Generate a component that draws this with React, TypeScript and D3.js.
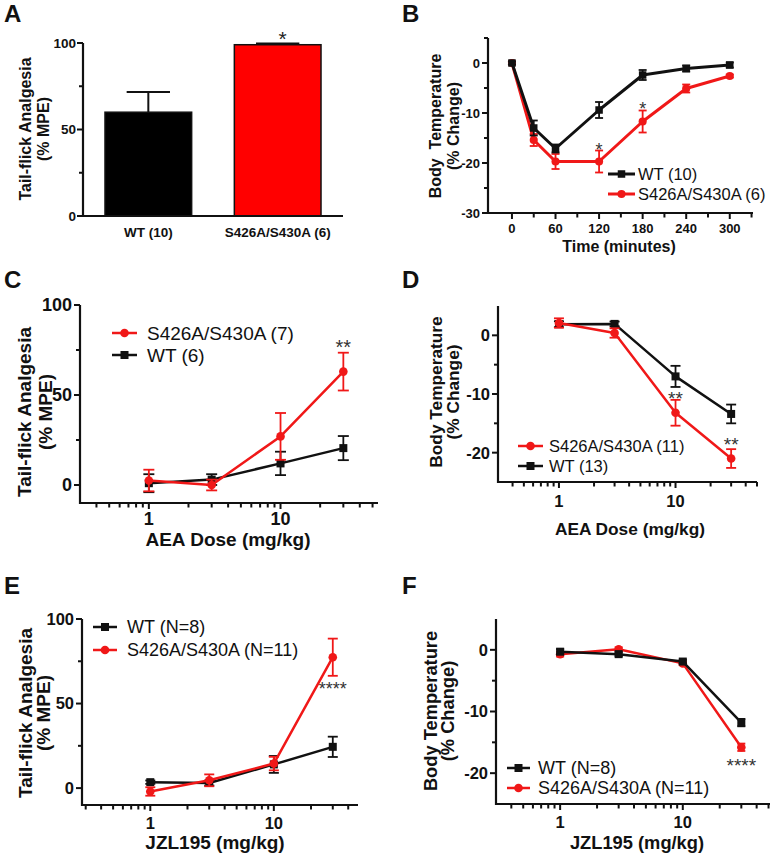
import React from 'react';
import * as d3 from 'd3';

const RED = '#f01818';
const BAR_RED = '#ff0000';
const INK = '#111111';
const FONT = '"Liberation Sans", Arial, Helvetica, sans-serif';

// ---- panel A: tail-flick bar chart
const aGroups = ['WT (10)', 'S426A/S430A (6)'];
const aMeans = [60, 99];
const aSem = [11.7, 0.7];
const aFills = ['#000000', BAR_RED];

// ---- panel B: body temperature time course
const bTime = [0, 30, 60, 120, 180, 240, 300];
const bWt = [0, -13, -17.1, -9.4, -2.4, -1.1, -0.4];
const bWtSem = [0.3, 1.5, 0.8, 1.6, 1.0, 0.6, 0.5];
const bMut = [0, -15.4, -19.7, -19.7, -11.7, -5.1, -2.6];
const bMutSem = [0.3, 1.2, 1.5, 2.2, 2.2, 0.8, 0.3];

// ---- panels C-F: dose response
const doses = [1, 3, 10, 30];
const cMut = [2.5, 0, 27, 63];
const cMutSem = [6, 3, 13, 10.5];
const cWt = [1, 3, 12, 20.5];
const cWtSem = [5, 3, 6.5, 6.7];

const dMut = [2.1, 0.4, -13.2, -21];
const dMutSem = [0.8, 0.8, 2.2, 1.6];
const dWt = [1.9, 1.95, -7, -13.4];
const dWtSem = [0.5, 0.4, 1.8, 1.6];

const eWt = [3.5, 3, 14, 24.4];
const eWtSem = [1, 1.5, 5, 6];
const eMut = [-2, 4.6, 14.5, 77.4];
const eMutSem = [2.5, 3.5, 4, 11];

const fWt = [-0.3, -0.7, -1.9, -11.8];
const fWtSem = [0.4, 0.3, 0.3, 0.6];
const fMut = [-0.7, 0.1, -2.2, -15.8];
const fMutSem = [0.4, 0.3, 0.3, 0.6];

type Series = {
  name: string;
  color: string;
  marker: 'square' | 'circle';
  x: number[];
  y: number[];
  sem: number[];
};

type Star = { x: number; y: number; text: string; size: number };

type LineProps = {
  xLog: boolean;
  xDomain: [number, number];
  xRange: [number, number];
  xMajor?: number[];
  xMinor?: number[];
  yDomain: [number, number];
  yRange: [number, number];
  yMajor: number[];
  yMinor: number[];
  tickSize: number;
  titleSize: number;
  xTickY: number;
  xTitleY: number;
  xTitleX: number;
  xTitle: string;
  yTitle: [string, string];
  yTitleX: [number, number];
  yTitleCY: number;
  series: Series[];
  drawOrder: number[];
  lineW: number;
  capW: number;
  mSize: number;
  legend: { x1: number; x2: number; textX: number; ys: number[]; size: number; order: number[] };
  stars: Star[];
};

function Marker({ kind, cx, cy, size, color }: { kind: string; cx: number; cy: number; size: number; color: string }) {
  if (kind === 'square') {
    return <rect x={cx - size / 2} y={cy - size / 2} width={size} height={size} fill={color} />;
  }
  return <circle cx={cx} cy={cy} r={size / 2 + 0.3} fill={color} />;
}

function LinePanel(p: LineProps) {
  const x = p.xLog
    ? d3.scaleLog().domain(p.xDomain).range(p.xRange)
    : d3.scaleLinear().domain(p.xDomain).range(p.xRange);
  const y = d3.scaleLinear().domain(p.yDomain).range(p.yRange);
  const x0 = p.xRange[0];
  const yBase = p.yRange[0];

  let majors: number[] = [];
  let minors: number[] = [];
  if (p.xLog) {
    const all = (x as d3.ScaleLogarithmic<number, number>).ticks();
    majors = all.filter((v) => Math.abs(Math.log10(v) - Math.round(Math.log10(v))) < 1e-9);
    minors = all.filter((v) => !majors.includes(v) && x(v) > x0 + 3);
  } else {
    majors = p.xMajor || [];
    minors = p.xMinor || [];
  }

  const line = d3
    .line<[number, number]>()
    .x((d) => x(d[0]))
    .y((d) => y(d[1]));

  return (
    <g>
      {/* axes */}
      <line x1={x0} x2={x0} y1={p.yRange[1]} y2={yBase + 1} stroke={INK} strokeWidth={2.2} />
      <line x1={x0 - 1} x2={p.xRange[1]} y1={yBase} y2={yBase} stroke={INK} strokeWidth={2.2} />
      {p.yMajor.map((v) => (
        <g key={'ym' + v}>
          <line x1={x0 - 6} x2={x0} y1={y(v)} y2={y(v)} stroke={INK} strokeWidth={2} />
          <text
            x={x0 - 8}
            y={y(v)}
            dy="0.36em"
            textAnchor="end"
            fontSize={p.tickSize}
            fontWeight="bold"
            fill={INK}
          >
            {v}
          </text>
        </g>
      ))}
      {p.yMinor.map((v) => (
        <line key={'yn' + v} x1={x0 - 4} x2={x0} y1={y(v)} y2={y(v)} stroke={INK} strokeWidth={2} />
      ))}
      {majors.map((v) => (
        <g key={'xm' + v}>
          <line x1={x(v)} x2={x(v)} y1={yBase} y2={yBase + 6} stroke={INK} strokeWidth={2} />
          <text x={x(v)} y={p.xTickY} textAnchor="middle" fontSize={p.tickSize} fontWeight="bold" fill={INK}>
            {v}
          </text>
        </g>
      ))}
      {minors.map((v) => (
        <line key={'xn' + v} x1={x(v)} x2={x(v)} y1={yBase} y2={yBase + 4.5} stroke={INK} strokeWidth={2} />
      ))}
      <text x={p.xTitleX} y={p.xTitleY} textAnchor="middle" fontSize={p.titleSize} fontWeight="bold" fill={INK}>
        {p.xTitle}
      </text>
      {p.yTitle.map((t, i) => (
        <text
          key={t}
          transform={`translate(${p.yTitleX[i]},${p.yTitleCY}) rotate(-90)`}
          dy="0.36em"
          textAnchor="middle"
          fontSize={p.titleSize}
          fontWeight="bold"
          fill={INK}
          style={{ whiteSpace: 'pre' }}
        >
          {t}
        </text>
      ))}

      {/* series */}
      {p.drawOrder.map((si) => {
        const s = p.series[si];
        const pts = s.x.map((xv, i) => [xv, s.y[i]] as [number, number]);
        return (
          <g key={s.name}>
            <path d={line(pts) || ''} fill="none" stroke={s.color} strokeWidth={p.lineW} strokeLinejoin="round" />
            {pts.map((d, i) => {
              const cx = x(d[0]);
              const top = y(d[1] + s.sem[i]);
              const bot = y(d[1] - s.sem[i]);
              return (
                <g key={i}>
                  <line x1={cx} x2={cx} y1={top} y2={bot} stroke={s.color} strokeWidth={1.8} />
                  <line x1={cx - p.capW} x2={cx + p.capW} y1={top} y2={top} stroke={s.color} strokeWidth={1.8} />
                  <line x1={cx - p.capW} x2={cx + p.capW} y1={bot} y2={bot} stroke={s.color} strokeWidth={1.8} />
                  <Marker kind={s.marker} cx={cx} cy={y(d[1])} size={p.mSize} color={s.color} />
                </g>
              );
            })}
          </g>
        );
      })}

      {/* significance */}
      {p.stars.map((st, i) => (
        <text
          key={'st' + i}
          x={x(st.x)}
          y={y(st.y) + st.size * 0.55}
          textAnchor="middle"
          fontSize={st.size}
          fill="#333"
        >
          {st.text}
        </text>
      ))}

      {/* legend */}
      {p.legend.order.map((si, i) => {
        const s = p.series[si];
        const ly = p.legend.ys[i];
        return (
          <g key={'lg' + si}>
            <line x1={p.legend.x1} x2={p.legend.x2} y1={ly} y2={ly} stroke={s.color} strokeWidth={p.lineW} />
            <Marker kind={s.marker} cx={(p.legend.x1 + p.legend.x2) / 2} cy={ly} size={p.mSize} color={s.color} />
            <text x={p.legend.textX} y={ly} dy="0.36em" fontSize={p.legend.size} fill={INK}>
              {s.name}
            </text>
          </g>
        );
      })}
    </g>
  );
}

function BarPanel() {
  const x = d3.scaleBand().domain(aGroups).range([83, 343]).paddingInner(0.33).paddingOuter(0.17);
  const y = d3.scaleLinear().domain([0, 100]).range([216, 43]);
  const bw = x.bandwidth();
  return (
    <g>
      {aGroups.map((g, i) => {
        const bx = x(g) as number;
        const cx = bx + bw / 2;
        const top = y(aMeans[i] + aSem[i]);
        return (
          <g key={g}>
            <line x1={cx} x2={cx} y1={y(aMeans[i])} y2={top} stroke={INK} strokeWidth={2} />
            <line x1={cx - bw / 4} x2={cx + bw / 4} y1={top} y2={top} stroke={INK} strokeWidth={2} />
            <rect
              x={bx}
              y={y(aMeans[i])}
              width={bw}
              height={y(0) - y(aMeans[i])}
              fill={aFills[i]}
              stroke={INK}
              strokeWidth={1.5}
            />
            <text x={cx} y={237} textAnchor="middle" fontSize={13.5} fontWeight="bold" fill={INK}>
              {g}
            </text>
          </g>
        );
      })}
      <text x={(x(aGroups[1]) as number) + bw / 2 + 5} y={y(105) + 12} textAnchor="middle" fontSize={21} fill="#222">
        *
      </text>
      <line x1={83} x2={83} y1={43} y2={217} stroke={INK} strokeWidth={2.2} />
      <line x1={82} x2={343} y1={216} y2={216} stroke={INK} strokeWidth={2.2} />
      {[0, 50, 100].map((v) => (
        <g key={v}>
          <line x1={77} x2={83} y1={y(v)} y2={y(v)} stroke={INK} strokeWidth={2} />
          <text x={76} y={y(v)} dy="0.36em" textAnchor="end" fontSize={13.5} fontWeight="bold" fill={INK}>
            {v}
          </text>
        </g>
      ))}
      {[25, 75].map((v) => (
        <line key={v} x1={79} x2={83} y1={y(v)} y2={y(v)} stroke={INK} strokeWidth={2} />
      ))}
      {['Tail-flick Analgesia', '(% MPE)'].map((t, i) => (
        <text
          key={t}
          transform={`translate(${[25, 43][i]},129) rotate(-90)`}
          dy="0.36em"
          textAnchor="middle"
          fontSize={16}
          fontWeight="bold"
          fill={INK}
        >
          {t}
        </text>
      ))}
    </g>
  );
}

const letters = [
  { t: 'A', x: 4, y: 22 },
  { t: 'B', x: 402, y: 22 },
  { t: 'C', x: 4, y: 288 },
  { t: 'D', x: 402, y: 288 },
  { t: 'E', x: 4, y: 594 },
  { t: 'F', x: 402, y: 594 },
];

export default function App() {
  const wtName = 'WT';
  return (
    <svg
      width={776}
      height={853}
      viewBox="0 0 776 853"
      style={{ position: 'absolute', left: 0, top: 0, background: '#fff' }}
      fontFamily={FONT}
    >
      <rect width={776} height={853} fill="#fff" />
      {letters.map((l) => (
        <text key={l.t} x={l.x} y={l.y} fontSize={24} fontWeight="bold" fill={INK}>
          {l.t}
        </text>
      ))}
      <BarPanel />

      <LinePanel
        xLog={false}
        xDomain={[-33, 332]}
        xRange={[488, 753]}
        xMajor={d3.range(0, 301, 60)}
        xMinor={d3.range(30, 331, 60)}
        yDomain={[-30, 5]}
        yRange={[213, 38]}
        yMajor={[-30, -20, -10, 0]}
        yMinor={[-25, -15, -5, 5]}
        tickSize={13}
        titleSize={16}
        xTickY={233}
        xTitleY={252}
        xTitleX={619}
        xTitle="Time (minutes)"
        yTitle={['Body  Temperature', '(% Change)']}
        yTitleX={[435, 453]}
        yTitleCY={126}
        series={[
          { name: `${wtName} (10)`, color: INK, marker: 'square', x: bTime, y: bWt, sem: bWtSem },
          { name: 'S426A/S430A (6)', color: RED, marker: 'circle', x: bTime, y: bMut, sem: bMutSem },
        ]}
        drawOrder={[1, 0]}
        lineW={3}
        capW={4}
        mSize={7.5}
        legend={{ x1: 608, x2: 635, textX: 638, ys: [174, 194], size: 16.5, order: [0, 1] }}
        stars={[
          { x: 120, y: -16.6, text: '*', size: 18 },
          { x: 180, y: -8.4, text: '*', size: 18 },
        ]}
      />

      <LinePanel
        xLog={true}
        xDomain={[0.3, 55]}
        xRange={[80, 378]}
        yDomain={[-10, 100]}
        yRange={[503, 305]}
        yMajor={[0, 50, 100]}
        yMinor={[25, 75]}
        tickSize={18}
        titleSize={19}
        xTickY={525}
        xTitleY={546}
        xTitleX={228}
        xTitle="AEA Dose (mg/kg)"
        yTitle={['Tail-flick Analgesia', '(% MPE)']}
        yTitleX={[24, 45]}
        yTitleCY={412}
        series={[
          { name: 'S426A/S430A (7)', color: RED, marker: 'circle', x: doses, y: cMut, sem: cMutSem },
          { name: `${wtName} (6)`, color: INK, marker: 'square', x: doses, y: cWt, sem: cWtSem },
        ]}
        drawOrder={[1, 0]}
        lineW={2.5}
        capW={5.5}
        mSize={8}
        legend={{ x1: 112, x2: 137, textX: 147, ys: [333, 355], size: 19, order: [0, 1] }}
        stars={[{ x: 30, y: 78.9, text: '**', size: 20 }]}
      />

      <LinePanel
        xLog={true}
        xDomain={[0.3, 50]}
        xRange={[498, 757]}
        yDomain={[-25, 5]}
        yRange={[482, 306]}
        yMajor={[-20, -10, 0]}
        yMinor={[-15, -5]}
        tickSize={16.5}
        titleSize={17.3}
        xTickY={507}
        xTitleY={535}
        xTitleX={630}
        xTitle="AEA Dose (mg/kg)"
        yTitle={['Body Temperature', '(% Change)']}
        yTitleX={[436, 453]}
        yTitleCY={392}
        series={[
          { name: 'S426A/S430A (11)', color: RED, marker: 'circle', x: doses, y: dMut, sem: dMutSem },
          { name: `${wtName} (13)`, color: INK, marker: 'square', x: doses, y: dWt, sem: dWtSem },
        ]}
        drawOrder={[1, 0]}
        lineW={2.5}
        capW={5}
        mSize={8}
        legend={{ x1: 518, x2: 543, textX: 549, ys: [446, 466], size: 16.5, order: [0, 1] }}
        stars={[
          { x: 10, y: -10.1, text: '**', size: 19 },
          { x: 30, y: -18, text: '**', size: 19 },
        ]}
      />

      <LinePanel
        xLog={true}
        xDomain={[0.28, 48]}
        xRange={[82, 358]}
        yDomain={[-10, 100]}
        yRange={[805, 619]}
        yMajor={[0, 50, 100]}
        yMinor={[25, 75]}
        tickSize={16.5}
        titleSize={19}
        xTickY={829}
        xTitleY={849}
        xTitleX={215}
        xTitle="JZL195 (mg/kg)"
        yTitle={['Tail-flick Analgesia', '(% MPE)']}
        yTitleX={[25, 43]}
        yTitleCY={713}
        series={[
          { name: `${wtName} (N=8)`, color: INK, marker: 'square', x: doses, y: eWt, sem: eWtSem },
          { name: 'S426A/S430A (N=11)', color: RED, marker: 'circle', x: doses, y: eMut, sem: eMutSem },
        ]}
        drawOrder={[0, 1]}
        lineW={2.5}
        capW={5}
        mSize={8}
        legend={{ x1: 93, x2: 117, textX: 127, ys: [627, 650], size: 18, order: [0, 1] }}
        stars={[{ x: 30, y: 61, text: '****', size: 18 }]}
      />

      <LinePanel
        xLog={true}
        xDomain={[0.3, 51.4]}
        xRange={[496, 770]}
        yDomain={[-25, 5]}
        yRange={[804, 619]}
        yMajor={[-20, -10, 0]}
        yMinor={[-15, -5]}
        tickSize={16.5}
        titleSize={18.3}
        xTickY={828}
        xTitleY={849}
        xTitleX={637}
        xTitle="JZL195 (mg/kg)"
        yTitle={['Body Temperature', '(% Change)']}
        yTitleX={[430, 447]}
        yTitleCY={711}
        series={[
          { name: `${wtName} (N=8)`, color: INK, marker: 'square', x: doses, y: fWt, sem: fWtSem },
          { name: 'S426A/S430A (N=11)', color: RED, marker: 'circle', x: doses, y: fMut, sem: fMutSem },
        ]}
        drawOrder={[1, 0]}
        lineW={2.5}
        capW={4}
        mSize={8}
        legend={{ x1: 507, x2: 530, textX: 538, ys: [768, 788], size: 18, order: [0, 1] }}
        stars={[{ x: 30, y: -18.1, text: '****', size: 19 }]}
      />
    </svg>
  );
}
